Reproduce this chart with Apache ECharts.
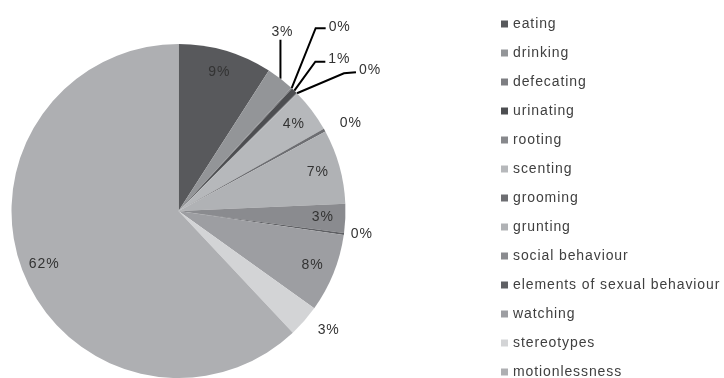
<!DOCTYPE html>
<html>
<head>
<meta charset="utf-8">
<script src="https://cdn.jsdelivr.net/npm/echarts@6/dist/echarts.min.js"></script>
<style>
  html, body { margin: 0; padding: 0; background: #ffffff; }
  #chart { width: 724px; height: 378px; }
</style>
</head>
<body>
<div id="chart"></div>
<script>
// Share of observed time per behaviour (percent of all observations)
const categories = [
  'eating', 'drinking', 'defecating', 'urinating', 'rooting', 'scenting',
  'grooming', 'grunting', 'social behaviour', 'elements of sexual behaviour',
  'watching', 'stereotypes', 'motionlessness'
];
const shares = [9.1, 2.7, 0.1, 0.6, 0.1, 4.2, 0.3, 7.2, 2.8, 0.2, 7.6, 3.1, 62.0];

// Grey palette, one shade per behaviour
const sliceColors = [
  '#58595c', '#939598', '#7d7e82', '#4d4e51', '#87888c', '#b6b8bb',
  '#6d6e72', '#b0b2b5', '#8a8b8f', '#5f6064', '#9d9ea2', '#d3d4d6', '#aeafb2'
];

// How each slice's percentage is placed
const insideLabels = ['eating', 'scenting', 'grunting', 'social behaviour', 'watching', 'motionlessness'];
const ledLabels = ['drinking', 'defecating', 'urinating', 'rooting'];
const freeLabels = { 'grooming': 14, 'elements of sexual behaviour': 4, 'stereotypes': 14 };

// Leader-line bends, as offsets from the slice's outer edge
const leaderPaths = {
  'drinking':   { bend: [0, -39], end: [0, -39], text: [2, -1], align: 'center', vAlign: 'bottom' },
  'defecating': { bend: [24, -60], end: [34, -60], text: [3, -1], align: 'left', vAlign: 'middle' },
  'urinating':  { bend: [21, -29], end: [31, -29], text: [3, -3], align: 'left', vAlign: 'middle' },
  'rooting':    { bend: [47, -20], end: [59, -21], text: [3, -2], align: 'left', vAlign: 'middle' }
};

const total = shares.reduce((a, b) => a + b, 0);
const pct = v => Math.round(v / total * 100) + '%';

const labelFont = { fontFamily: 'Liberation Sans, Arial, sans-serif', fontSize: 14, color: '#333333' };

const mainData = categories.map((name, i) => {
  const item = { name: name, value: shares[i], itemStyle: { color: sliceColors[i] } };
  if (ledLabels.includes(name)) {
    item.label = { show: true, position: 'outside' };
    item.labelLine = { show: true, length: 20, length2: 10 };
  } else if (name in freeLabels) {
    item.label = { show: true, position: 'outside' };
    item.labelLine = { show: false, length: freeLabels[name], length2: 0 };
  } else {
    item.label = { show: false };
    item.labelLine = { show: false };
  }
  return item;
});

// Transparent ring carrying the in-slice percentages near the rim
const ringData = categories.map((name, i) => ({
  name: name,
  value: shares[i],
  label: { show: insideLabels.includes(name) }
}));

const chart = echarts.init(document.getElementById('chart'), null, { renderer: 'canvas' });

chart.setOption({
  animation: false,
  backgroundColor: '#ffffff',
  legend: {
    orient: 'vertical',
    left: 501,
    top: 16,
    height: 400,
    padding: 0,
    itemWidth: 7,
    itemHeight: 7,
    itemGap: 13,
    icon: 'rect',
    selectedMode: false,
    data: categories,
    textStyle: { fontFamily: 'Liberation Sans, Arial, sans-serif', fontSize: 14, color: '#404040', lineHeight: 16 }
  },
  series: [
    {
      type: 'pie',
      center: [178.5, 211],
      radius: [0, 167],
      startAngle: 90,
      clockwise: true,
      avoidLabelOverlap: false,
      silent: true,
      itemStyle: { borderWidth: 0 },
      label: Object.assign({ formatter: p => pct(p.value), distanceToLabelLine: 3 }, labelFont),
      labelLine: { lineStyle: { color: '#000000', width: 2 }, smooth: false },
      labelLayout: function (params) {
        const name = categories[params.dataIndex];
        const path = leaderPaths[name];
        if (!path || !params.labelLinePoints) return {};
        const p0 = params.labelLinePoints[0];
        const p1 = [p0[0] + path.bend[0], p0[1] + path.bend[1]];
        const p2 = [p0[0] + path.end[0], p0[1] + path.end[1]];
        return {
          x: p2[0] + path.text[0],
          y: p2[1] + path.text[1],
          align: path.align,
          verticalAlign: path.vAlign,
          labelLinePoints: [p0, p1, p2]
        };
      },
      data: mainData
    },
    {
      type: 'pie',
      center: [178.5, 211],
      radius: [116, 167],
      startAngle: 90,
      clockwise: true,
      silent: true,
      legendHoverLink: false,
      itemStyle: { color: 'rgba(0,0,0,0)', borderWidth: 0 },
      label: Object.assign({ position: 'inside', formatter: p => pct(p.value) }, labelFont),
      labelLine: { show: false },
      data: ringData
    }
  ]
});

// Slightly open tracking for all drawn text, then repaint
document.querySelectorAll('#chart canvas').forEach(c => {
  const ctx = c.getContext('2d');
  if ('letterSpacing' in ctx) ctx.letterSpacing = '0.9px';
});
chart.getZr().painter.refresh(true);
</script>
</body>
</html>
